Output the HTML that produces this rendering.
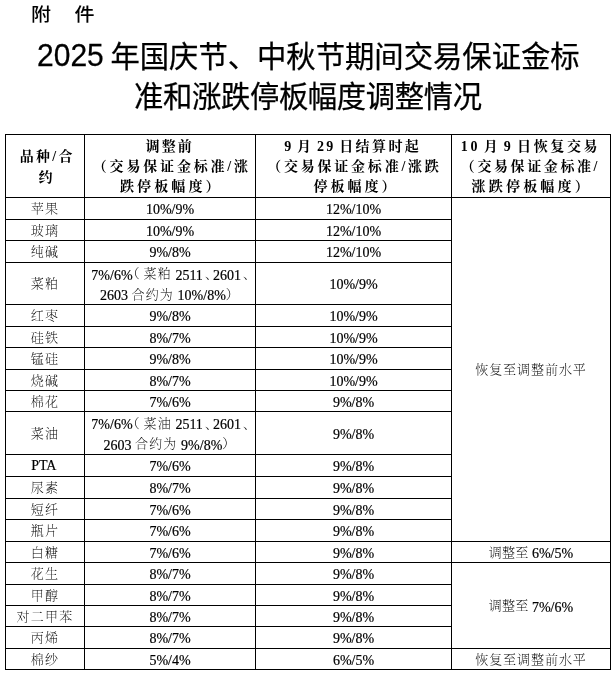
<!DOCTYPE html>
<html lang="zh-CN">
<head>
<meta charset="utf-8">
<title>2025年国庆节、中秋节期间交易保证金标准和涨跌停板幅度调整情况</title>
<style>
html,body{margin:0;padding:0;background:#fff;}
body{width:616px;height:674px;overflow:hidden;position:relative;color:#000;
  font-family:"Liberation Serif","Noto Serif CJK SC",serif;}
.fj{position:absolute;left:31px;top:1px;font-family:"Liberation Sans","Noto Sans CJK SC",sans-serif;
  font-size:20px;line-height:28px;white-space:pre;font-weight:500;letter-spacing:1.7px;transform:scaleY(0.9);transform-origin:0 14px;}
.t1,.t2{position:absolute;font-family:"Liberation Sans","Noto Sans CJK SC",sans-serif;font-size:29.33px;
  line-height:40px;white-space:nowrap;-webkit-text-stroke:0.25px #000;}
.t1{left:37px;top:37px;letter-spacing:0px;}
.yr{display:inline-block;transform:scale(1.024,1.095);transform-origin:0 100%;}
.t2{left:134px;top:77px;letter-spacing:-0.35px;}
table{position:absolute;left:5px;top:134px;border-collapse:collapse;table-layout:fixed;width:606px;}
td,th{border:1px solid #000;padding:0;text-align:center;vertical-align:middle;white-space:nowrap;
  font-family:"Liberation Serif","Noto Serif CJK SC",serif;}
td{font-size:14px;line-height:14px;padding-top:3px;-webkit-text-stroke:0.2px #000;}
td.d{padding-top:0;}
.dd{display:inline-block;position:relative;top:1.5px;line-height:19.7px;}
th{font-size:14px;line-height:20.3px;font-weight:bold;padding-top:0px;}
th.h1{line-height:21.5px;padding-top:0px;}
.hl{display:block;white-space:nowrap;position:relative;top:1.2px;}
.k{font-family:"Noto Serif CJK SC",serif;font-size:13px;letter-spacing:1.2px;font-weight:200;-webkit-text-stroke:0;}
.k{position:relative;top:-1.5px;}
.lp{margin-left:-6px;letter-spacing:3.9px;}
.dl{display:block;position:relative;}
.tz{letter-spacing:0.2px;}
.hf{letter-spacing:0.95px;}
.dn{margin-left:2px;letter-spacing:-5px;}
</style>
</head>
<body>
<div class="fj">附　件</div>
<div class="t1"><span class="yr">2025</span> 年国庆节、中秋节期间交易保证金标</div>
<div class="t2">准和涨跌停板幅度调整情况</div>
<table>
<colgroup><col style="width:79px"><col style="width:171px"><col style="width:196px"><col style="width:159px"></colgroup>
<tr style="height:63px">
<th class="h1"><span class="hl" style="letter-spacing:2.33px;left:2.25px">品种/合</span><span class="hl" style="letter-spacing:1.00px;left:0.90px">约</span></th>
<th><span class="hl" style="letter-spacing:2.15px;left:-0.25px">调整前</span><span class="hl" style="letter-spacing:2.82px;left:1.83px">（交易保证金标准/涨</span><span class="hl" style="letter-spacing:3.10px;left:1.30px">跌停板幅度）</span></th>
<th><span class="hl" style="letter-spacing:2.41px;left:-0.75px;word-spacing:-2.50px">9 月 29 日结算时起</span><span class="hl" style="letter-spacing:2.77px;left:0.95px">（交易保证金标准/涨跌</span><span class="hl" style="letter-spacing:2.98px;left:2.45px">停板幅度）</span></th>
<th><span class="hl" style="letter-spacing:2.62px;left:-0.50px;word-spacing:-2.50px">10 月 9 日恢复交易</span><span class="hl" style="letter-spacing:2.59px;left:-0.55px">（交易保证金标准/</span><span class="hl" style="letter-spacing:3.18px;left:0.75px">涨跌停板幅度）</span></th>
</tr>
<tr style="height:22px"><td><span class="k">苹果</span></td><td>10%/9%</td><td>12%/10%</td><td rowspan="14"><span class="k hf">恢复至调整前水平</span></td></tr>
<tr style="height:21px"><td><span class="k">玻璃</span></td><td>10%/9%</td><td>12%/10%</td></tr>
<tr style="height:22px"><td><span class="k">纯碱</span></td><td>9%/8%</td><td>12%/10%</td></tr>
<tr style="height:42px"><td><span class="k">菜粕</span></td><td class="d"><span class="dd"><span class="dl" style="left:1.15px">7%/6%<span class="k lp">（</span><span class="k">菜粕</span> 2511<span class="k dn">、</span>2601<span class="k dn">、</span></span><span class="dl">2603 <span class="k">合约为</span> 10%/8%<span class="k">）</span></span></span></td><td>10%/9%</td></tr>
<tr style="height:22px"><td><span class="k">红枣</span></td><td>9%/8%</td><td>10%/9%</td></tr>
<tr style="height:21px"><td><span class="k">硅铁</span></td><td>8%/7%</td><td>10%/9%</td></tr>
<tr style="height:22px"><td><span class="k">锰硅</span></td><td>9%/8%</td><td>10%/9%</td></tr>
<tr style="height:21px"><td><span class="k">烧碱</span></td><td>8%/7%</td><td>10%/9%</td></tr>
<tr style="height:21px"><td><span class="k">棉花</span></td><td>7%/6%</td><td>9%/8%</td></tr>
<tr style="height:43px"><td><span class="k">菜油</span></td><td class="d"><span class="dd"><span class="dl" style="left:1.15px">7%/6%<span class="k lp">（</span><span class="k">菜油</span> 2511<span class="k dn">、</span>2601<span class="k dn">、</span></span><span class="dl">2603 <span class="k">合约为</span> 9%/8%<span class="k">）</span></span></span></td><td>9%/8%</td></tr>
<tr style="height:22px"><td><span style="position:relative;top:-1px;left:-1.2px">PTA</span></td><td>7%/6%</td><td>9%/8%</td></tr>
<tr style="height:22px"><td><span class="k">尿素</span></td><td>8%/7%</td><td>9%/8%</td></tr>
<tr style="height:21px"><td><span class="k">短纤</span></td><td>7%/6%</td><td>9%/8%</td></tr>
<tr style="height:22px"><td><span class="k">瓶片</span></td><td>7%/6%</td><td>9%/8%</td></tr>
<tr style="height:21px"><td><span class="k">白糖</span></td><td>7%/6%</td><td>9%/8%</td><td><span class="k tz">调整至</span> 6%/5%</td></tr>
<tr style="height:22px"><td><span class="k">花生</span></td><td>8%/7%</td><td>9%/8%</td><td rowspan="4"><span class="k tz">调整至</span> 7%/6%</td></tr>
<tr style="height:21px"><td><span class="k">甲醇</span></td><td>8%/7%</td><td>9%/8%</td></tr>
<tr style="height:21px"><td><span class="k">对二甲苯</span></td><td>8%/7%</td><td>9%/8%</td></tr>
<tr style="height:22px"><td><span class="k">丙烯</span></td><td>8%/7%</td><td>9%/8%</td></tr>
<tr style="height:21px"><td><span class="k">棉纱</span></td><td>5%/4%</td><td>6%/5%</td><td><span class="k hf">恢复至调整前水平</span></td></tr>
</table>
</body>
</html>
